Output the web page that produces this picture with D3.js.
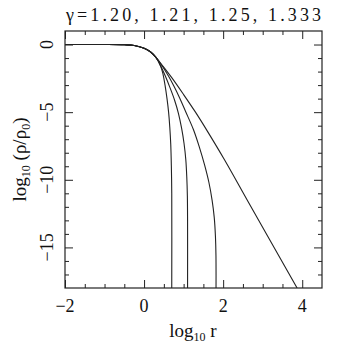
<!DOCTYPE html>
<html>
<head>
<meta charset="utf-8">
<script src="https://cdn.jsdelivr.net/npm/d3@7"></script>
<style>
  body { margin: 0; background: #fff; }
</style>
</head>
<body>
<div id="chart"></div>
<script>
// gamma values shown in the title
const gammas = ["1.20", "1.21", "1.25", "1.333"];

// shared inner part of every profile (log10 r, log10 rho/rho0)
const coreR   = [-2, -1, -0.5, -0.25, 0, 0.15, 0.3];
const coreRho = [0, 0, -0.02, -0.07, -0.27, -0.52, -0.95];

// outer parts, one per gamma
const r120   = [0.42, 0.48, 0.53, 0.58, 0.62, 0.65, 0.675, 0.69, 0.7, 0.7];
const rho120 = [-1.6, -2.2, -3.0, -4.0, -5.0, -6.1, -7.4, -9, -11, -18];

const r121   = [0.43, 0.54, 0.65, 0.77, 0.87, 0.95, 1.01, 1.055, 1.08, 1.095, 1.1, 1.1];
const rho121 = [-1.65, -2.35, -3.15, -4.1, -5.1, -6.2, -7.3, -8.5, -9.8, -11.2, -13, -18];

const r125   = [0.45, 0.62, 0.75, 0.9, 1.05, 1.25, 1.4, 1.53, 1.64, 1.72, 1.775, 1.805, 1.818, 1.82];
const rho125 = [-1.55, -2.35, -3.05, -3.95, -4.95, -6.3, -7.6, -8.9, -10.2, -11.5, -12.8, -14.2, -15.6, -18];

const r1333   = [0.45, 0.7, 1.0, 1.3, 1.6, 2.03, 2.6, 3.87];
const rho1333 = [-1.5, -2.45, -3.7, -5.0, -6.4, -8.5, -11.45, -18];

const xTicks = [-2, 0, 2, 4];
const yTicks = [0, -5, -10, -15];

const width = 339, height = 352;
const m = {left: 65, right: 17, top: 31, bottom: 64};
const font = "'Liberation Serif', 'DejaVu Serif', serif";

const svg = d3.select("#chart").append("svg")
    .attr("width", width).attr("height", height)
    .style("font-family", font);

const x = d3.scaleLinear().domain([-2, 4.5]).range([m.left, width - m.right]);
const y = d3.scaleLinear().domain([-18, 1]).range([height - m.bottom, m.top]);

// build the four series
function series(r, rho){
    const pts = coreR.map((v, i) => [v, coreRho[i]]);
    return pts.concat(r.map((v, i) => [v, rho[i]]));
}
const profiles = [
    series(r120, rho120),
    series(r121, rho121),
    series(r125, rho125),
    series(r1333, rho1333)
];

svg.append("clipPath").attr("id", "clip")
  .append("rect")
    .attr("x", x(-2)).attr("y", y(1))
    .attr("width", x(4.5) - x(-2)).attr("height", y(-18) - y(1));

const line = d3.line()
    .x(d => x(d[0]))
    .y(d => y(d[1]))
    .curve(d3.curveCatmullRom.alpha(0.5));

svg.append("g").attr("clip-path", "url(#clip)")
  .selectAll("path")
  .data(profiles)
  .enter()
  .append("path")
    .attr("d", line)
    .attr("fill", "none")
    .attr("stroke", "#222")
    .attr("stroke-width", 1.1);

//////////////////////////////////////////////////////
// AXES (ticks pointing inward on all four sides)
//////////////////////////////////////////////////////

const x0 = x(-2), x1 = x(4.5), y0 = y(-18), y1 = y(1);

const xMinor = d3.range(-1.5, 4.5, 0.5).filter(v => v % 2 !== 0);
const yMinor = d3.range(-17, 1, 1).filter(v => v % 5 !== 0);

svg.append("g").attr("transform", `translate(0,${y0})`)
    .call(d3.axisBottom(x).tickValues(xTicks).tickSize(-8).tickFormat(""));
svg.append("g").attr("transform", `translate(0,${y0})`)
    .call(d3.axisBottom(x).tickValues(xMinor).tickSize(-4).tickFormat(""));
svg.append("g").attr("transform", `translate(0,${y1})`)
    .call(d3.axisTop(x).tickValues(xTicks).tickSize(-8).tickFormat(""));
svg.append("g").attr("transform", `translate(0,${y1})`)
    .call(d3.axisTop(x).tickValues(xMinor).tickSize(-4).tickFormat(""));

svg.append("g").attr("transform", `translate(${x0},0)`)
    .call(d3.axisLeft(y).tickValues(yTicks).tickSize(-8).tickFormat(""));
svg.append("g").attr("transform", `translate(${x0},0)`)
    .call(d3.axisLeft(y).tickValues(yMinor).tickSize(-4).tickFormat(""));
svg.append("g").attr("transform", `translate(${x1},0)`)
    .call(d3.axisRight(y).tickValues(yTicks).tickSize(-8).tickFormat(""));
svg.append("g").attr("transform", `translate(${x1},0)`)
    .call(d3.axisRight(y).tickValues(yMinor).tickSize(-4).tickFormat(""));

svg.selectAll(".domain").remove();
svg.selectAll(".tick line").attr("stroke", "#222").attr("stroke-width", 1);

svg.append("rect")
    .attr("x", x0).attr("y", y1)
    .attr("width", x1 - x0).attr("height", y0 - y1)
    .attr("fill", "none")
    .attr("stroke", "#222")
    .attr("stroke-width", 1.2);

// tick labels
svg.selectAll(".xlab")
  .data(xTicks)
  .enter()
  .append("text")
    .attr("x", d => x(d))
    .attr("y", y0 + 24)
    .attr("text-anchor", "middle")
    .style("font-size", "18px")
    .style("fill", "#111")
    .text(d => d < 0 ? "\u2212" + Math.abs(d) : d);

svg.selectAll(".ylab")
  .data(yTicks)
  .enter()
  .append("text")
    .attr("transform", d => `translate(${x0 - 12},${y(d)}) rotate(-90)`)
    .attr("text-anchor", "middle")
    .style("font-size", "18px")
    .style("fill", "#111")
    .text(d => d < 0 ? "\u2212" + Math.abs(d) : d);

// axis titles
const xt = svg.append("text")
    .attr("x", 193)
    .attr("y", 337)
    .attr("text-anchor", "middle")
    .style("font-size", "19px")
    .style("fill", "#111");
xt.append("tspan").text("log");
xt.append("tspan").attr("dy", 4).style("font-size", "12px").text("10");
xt.append("tspan").attr("dy", -4).text(" r");

const yt = svg.append("text")
    .attr("transform", `translate(26,${(y0 + y1) / 2}) rotate(-90)`)
    .attr("text-anchor", "middle")
    .style("font-size", "19px")
    .style("fill", "#111");
yt.append("tspan").text("log");
yt.append("tspan").attr("dy", 4).style("font-size", "12px").text("10");
yt.append("tspan").attr("dy", -4).text(" (\u03c1/\u03c1");
yt.append("tspan").attr("dy", 4).style("font-size", "12px").text("0");
yt.append("tspan").attr("dy", -4).text(")");

// title
svg.append("text")
    .attr("x", (x0 + x1) / 2)
    .attr("y", 21)
    .attr("text-anchor", "middle")
    .style("font-size", "18px")
    .style("fill", "#111")
    .attr("textLength", x1 - x0 - 2)
    .text("\u03b3=" + gammas.join(",  "));
</script>
</body>
</html>
